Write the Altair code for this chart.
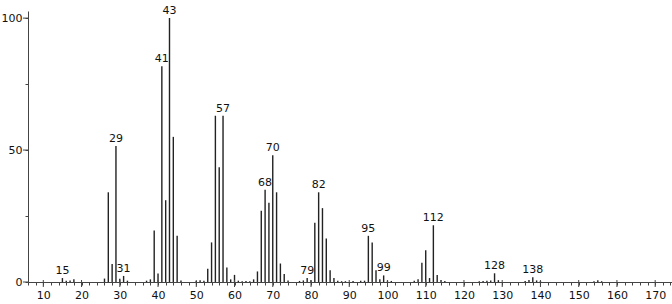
import altair as alt
import pandas as pd

mz = [15, 16, 17, 18,
      26, 27, 28, 29, 30, 31, 32,
      37, 38, 39, 40, 41, 42, 43, 44, 45, 46,
      50, 51, 52, 53, 54, 55, 56, 57, 58, 59, 60, 61, 62, 63, 64, 65, 66, 67, 68, 69, 70, 71, 72, 73, 74,
      77, 78, 79, 80, 81, 82, 83, 84, 85, 86, 87, 88, 89,
      91, 93, 94, 95, 96, 97, 98, 99, 100, 101,
      107, 108, 109, 110, 111, 112, 113, 114, 115,
      124, 125, 126, 127, 128, 129,
      136, 137, 138, 139, 140,
      154, 155, 156]
intensity = [1.5, 0.5, 0.6, 1.0,
             1.3, 34, 6.8, 51.5, 1.2, 2.3, 0.5,
             0.5, 1.0, 19.5, 3.2, 81.8, 31, 100, 55, 17.5, 0.6,
             0.4, 0.7, 0.5, 5, 15, 63, 43.5, 63, 5.5, 1.0, 2.7, 0.5, 0.3, 0.4, 0.3, 1.0, 4, 27, 35, 30, 48, 34, 7, 3, 0.6,
             0.4, 0.6, 1.5, 0.7, 22.5, 34, 28, 16.5, 4.5, 1.5, 0.5, 0.3, 0.3,
             0.4, 0.5, 0.5, 17.5, 15, 4.5, 1.0, 2.5, 0.5, 0.4,
             0.5, 1.0, 7.3, 12, 1.5, 21.5, 2.7, 0.8, 0.4,
             0.3, 0.4, 0.5, 0.6, 3.3, 0.7,
             0.4, 0.8, 1.8, 0.6, 0.4,
             0.3, 0.7, 0.3]
labeled = [15, 29, 31, 41, 43, 57, 68, 70, 79, 82, 95, 99, 112, 128, 138]

x_minor = list(range(6, 175, 2))
x_major = list(range(10, 175, 10))
y_minor = [0, 25, 50, 75, 100]
y_major = [0, 50, 100]

df = pd.DataFrame({"mz": mz, "intensity": intensity})
df["label"] = df["mz"].apply(lambda v: str(v) if v in labeled else "")
lab = df[df["label"] != ""]

FONT = "DejaVu Sans"
H = 271

x_scale = alt.Scale(domain=[6, 174.4], nice=False, zero=False)
y_scale = alt.Scale(domain=[0, 102.7], nice=False)

x_axis = alt.Axis(
    values=x_minor, title=None, grid=False, ticks=True, tickSize=3, tickWidth=1,
    labelExpr="datum.value % 10 === 0 ? datum.label : ''",
    labelOverlap=False, labelBound=False, labelFlush=False,
    domainColor="#444", tickColor="#444", labelColor="#111",
    labelFont=FONT, labelFontSize=11, labelPadding=4,
)
y_axis = alt.Axis(
    values=y_minor, title=None, grid=False, ticks=True, tickSize=3, tickWidth=1,
    labelExpr="datum.value % 50 === 0 ? datum.label : ''",
    labelOverlap=False, labelBound=False, labelFlush=False,
    domainColor="#444", tickColor="#444", labelColor="#111",
    labelFont=FONT, labelFontSize=11, labelPadding=3,
)

bars = alt.Chart(df).mark_rule(color="#222", strokeWidth=1.4).encode(
    x=alt.X("mz:Q", scale=x_scale, axis=x_axis),
    y=alt.Y("intensity:Q", scale=y_scale, axis=y_axis),
    y2=alt.datum(0),
)

xmaj = alt.Chart(pd.DataFrame({"t": x_major})).mark_rule(color="#444", strokeWidth=1).encode(
    x=alt.X("t:Q", scale=x_scale, axis=x_axis),
    y=alt.value(H - 2),
    y2=alt.value(H + 5),
)
ymaj = alt.Chart(pd.DataFrame({"t": y_major})).mark_rule(color="#444", strokeWidth=1).encode(
    y=alt.Y("t:Q", scale=y_scale, axis=y_axis),
    x=alt.value(-5),
    x2=alt.value(0),
)

texts = alt.Chart(lab).mark_text(
    font=FONT, fontSize=11, color="#111", baseline="bottom", dy=-2
).encode(
    x=alt.X("mz:Q", scale=x_scale, axis=x_axis),
    y=alt.Y("intensity:Q", scale=y_scale, axis=y_axis),
    text="label:N",
)

chart = alt.layer(bars, xmaj, ymaj, texts).properties(
    width=644, height=H,
    padding={"left": 28, "top": 11, "right": 0, "bottom": 22},
    autosize=alt.AutoSizeParams(type="none"),
    background="white",
).configure_view(stroke=None).configure_axis(labelOverlap=False)

chart.save("out.html", embed_options={"renderer": "svg", "actions": False})
